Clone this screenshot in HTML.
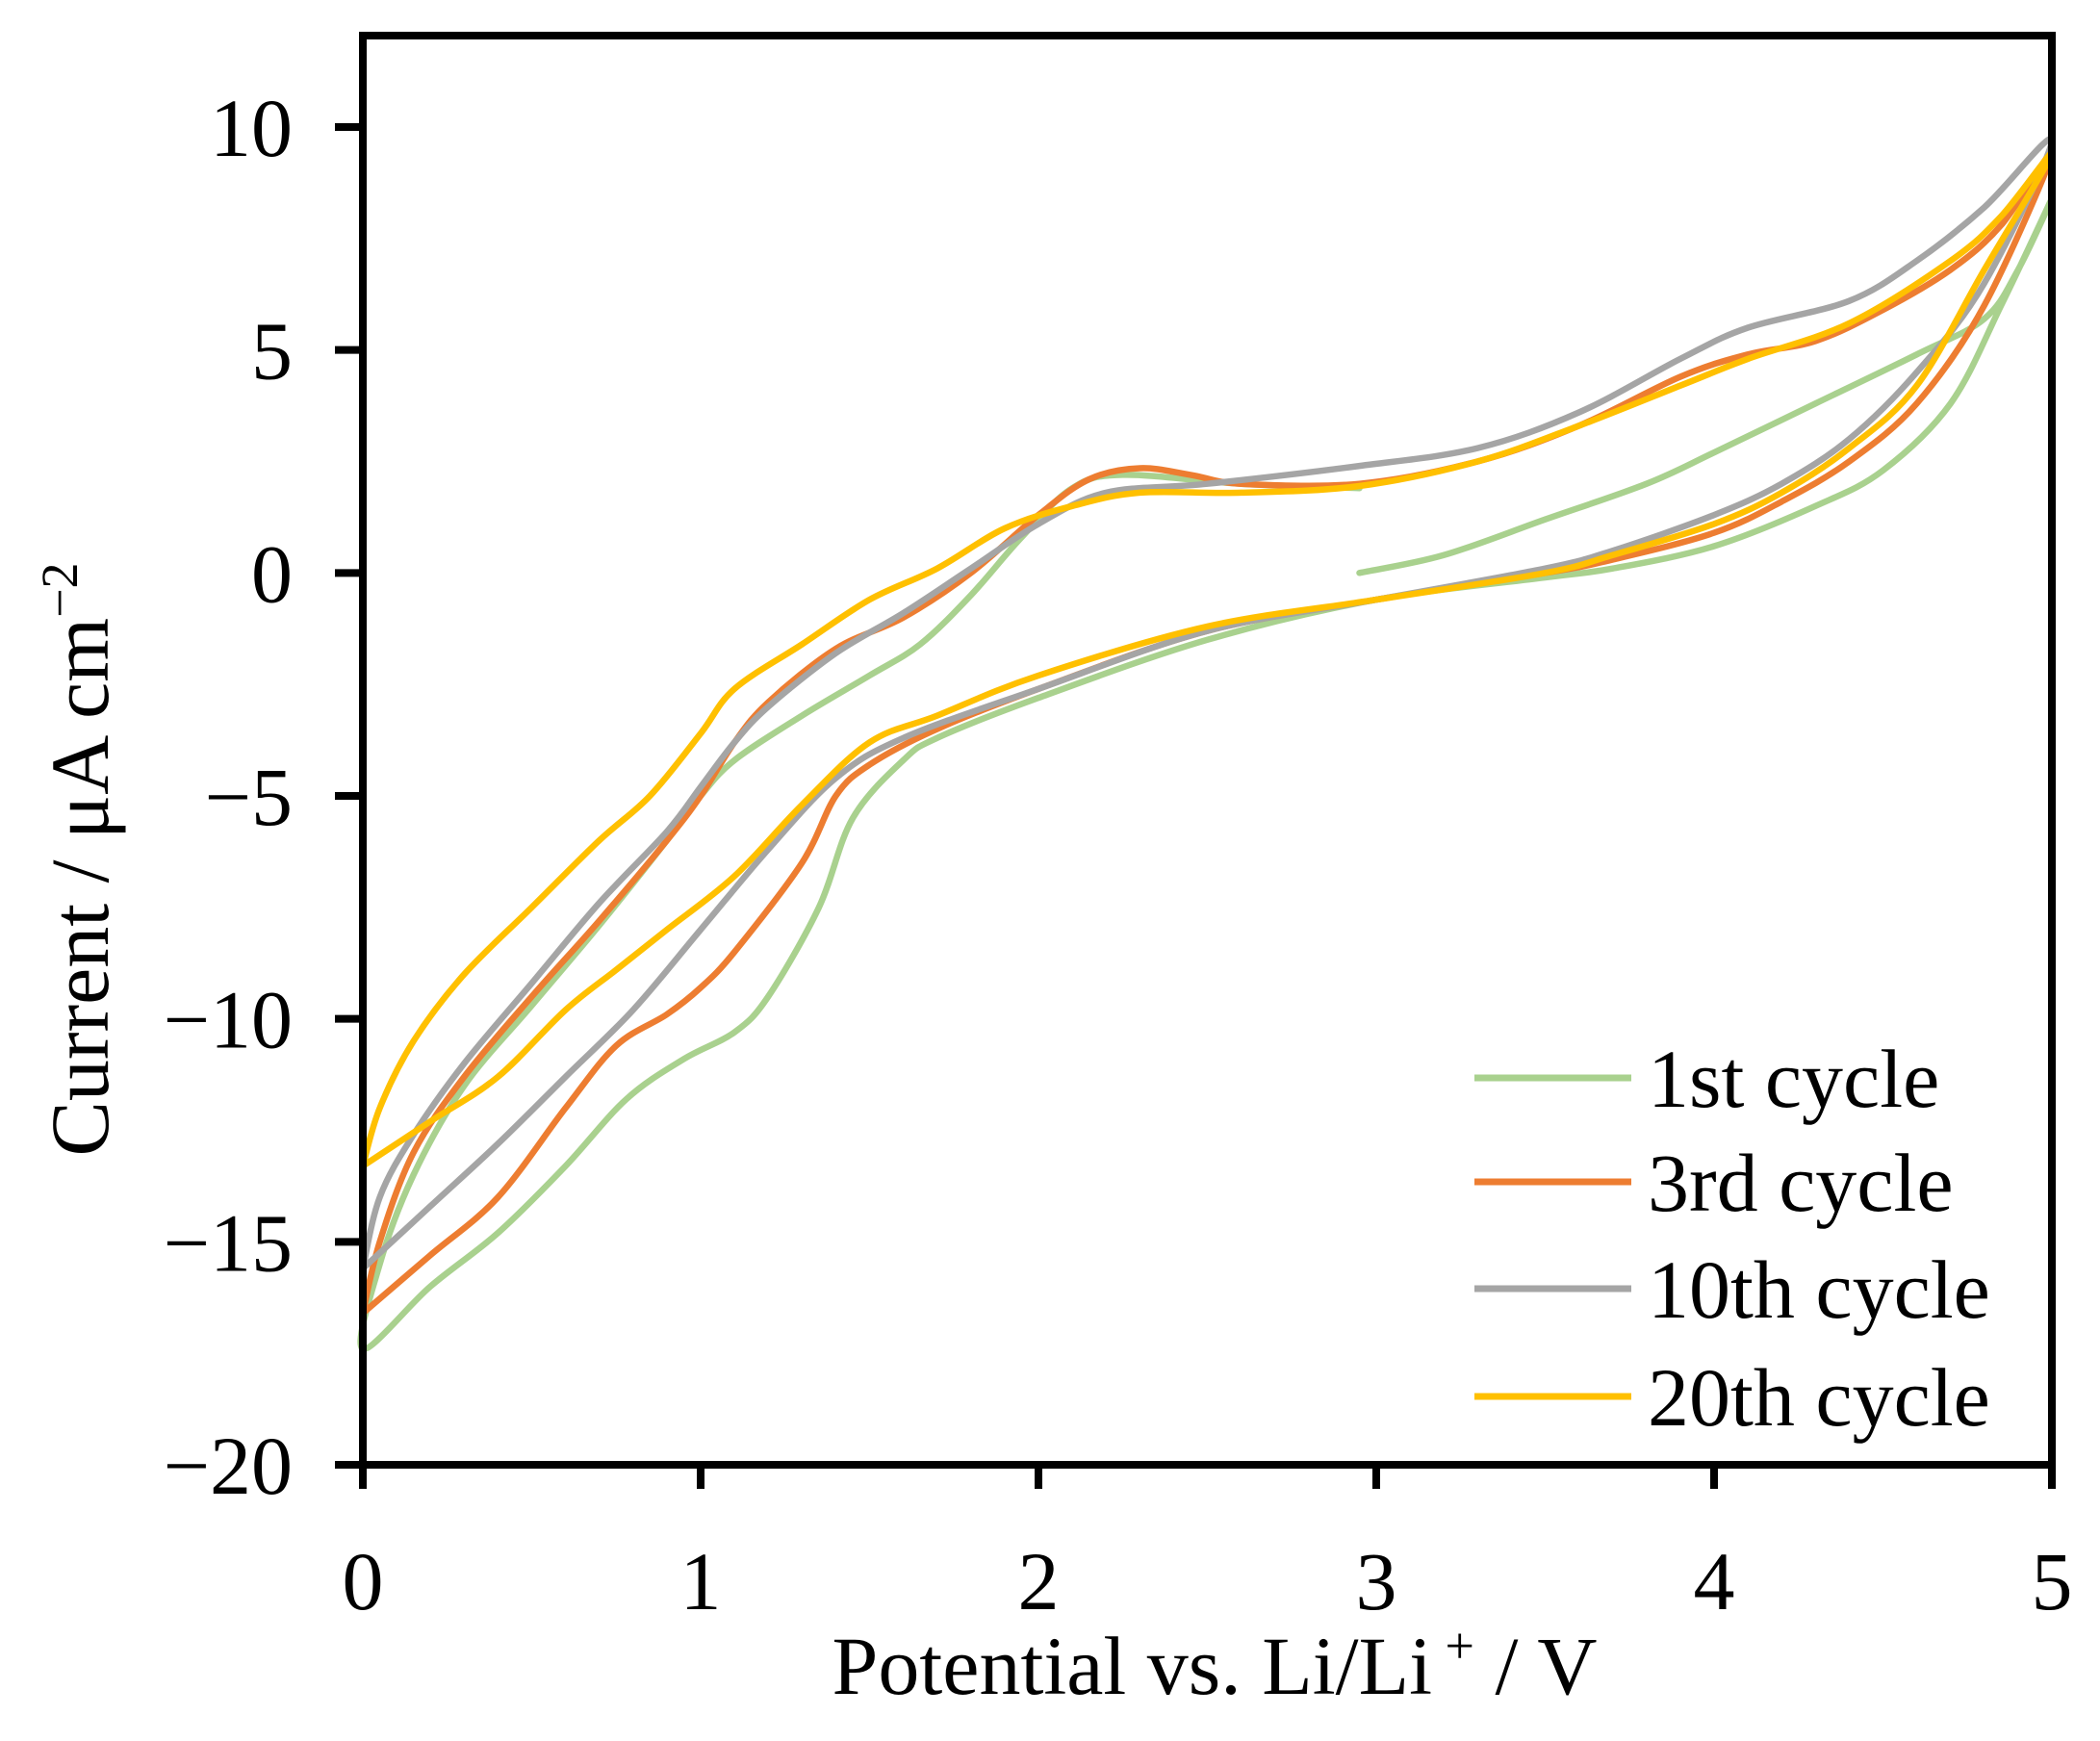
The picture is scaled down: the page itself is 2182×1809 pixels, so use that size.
<!DOCTYPE html>
<html><head><meta charset="utf-8">
<style>
html,body{margin:0;padding:0;background:#fff;}
svg{display:block;font-family:"Liberation Serif",serif;}
</style></head>
<body>
<svg id="chart" width="2182" height="1809" viewBox="0 0 2182 1809" xmlns="http://www.w3.org/2000/svg">
<g id="plot"></g>
<g id="axes"></g>
<g id="legend"></g>
<text x="1262" y="1760" font-size="86" text-anchor="middle" fill="#000">Potential vs. Li/Li<tspan font-size="54" dy="-32"> +</tspan><tspan dy="32"> / V</tspan></text>
<text transform="translate(112,893) rotate(-90)" font-size="86" text-anchor="middle" fill="#000">Current / μA cm<tspan font-size="54" dy="-32">−2</tspan></text>
</svg>
<script>
const xTicks=[0,1,2,3,4,5];
const yTicks=[10,5,0,-5,-10,-15,-20];
const seriesNames=["1st cycle","3rd cycle","10th cycle","20th cycle"];
const seriesColors=["#A9D18E","#ED7D31","#A5A5A5","#FFC000"];
// cycle 1 (green)
const c1V=[2.95,3.2,3.5,3.8,4.0,4.3,4.6,4.8,4.9,5, 4.85,4.7,4.5,4.3,4.0,3.7,3.5,3.0,2.5,2.0,1.7,1.6,1.45,1.35,1.2,1.1,0.95,0.78,0.6,0.4,0.2,0, 0.05,0.15,0.3,0.5,0.7,0.9,1.0,1.1,1.3,1.5,1.65,1.8,1.95,2.1,2.25,2.6,2.95];
const c1I=[0,0.4,1.2,2.0,2.7,3.8,4.9,5.7,6.8,8.4, 6,3.8,2.3,1.5,0.6,0.1,-0.1,-0.6,-1.5,-2.8,-3.7,-4.2,-5.5,-7.5,-9.5,-10.3,-10.9,-11.8,-13.3,-14.8,-16.0,-17.4, -15.5,-13.5,-11.5,-9.7,-7.9,-6,-5,-4.2,-3.2,-2.3,-1.6,-0.5,0.8,1.9,2.2,2.0,1.9];
// cycle 3 (orange)
const c3V=[0,0.05,0.15,0.3,0.5,0.7,0.9,1.0,1.1,1.2,1.4,1.6,1.8,2.0,2.15,2.3,2.45,2.6,2.95,3.3,3.6,3.9,4.1,4.3,4.5,4.7,4.85,5, 4.8,4.6,4.4,4.2,4.0,3.7,3.5,3.0,2.5,2.0,1.7,1.5,1.4,1.3,1.1,1.0,0.9,0.75,0.6,0.4,0.2,0];
const c3I=[-16.6,-15,-13,-11.3,-9.5,-7.8,-6,-5,-3.8,-2.9,-1.7,-1.0,0,1.3,2.1,2.35,2.2,2.0,2.0,2.5,3.3,4.4,4.9,5.2,5.9,6.8,7.8,9.4, 6,3.8,2.5,1.6,0.9,0.3,0.0,-0.6,-1.3,-2.6,-3.5,-4.3,-5,-6.5,-8.5,-9.3,-9.9,-10.6,-12,-14,-15.3,-16.6];
// cycle 10 (gray)
const c10V=[0,0.05,0.15,0.3,0.5,0.7,0.9,1.0,1.1,1.2,1.4,1.6,1.8,2.0,2.2,2.5,2.95,3.3,3.6,3.9,4.1,4.4,4.6,4.8,5, 4.8,4.6,4.4,4.2,4.0,3.7,3.5,3.0,2.5,2.0,1.6,1.4,1.2,1.0,0.8,0.6,0.4,0.2,0];
const c10I=[-15.6,-14,-12.6,-11,-9.2,-7.4,-5.8,-4.8,-3.8,-3.0,-1.8,-0.9,0.1,1.1,1.8,2.0,2.4,2.8,3.6,4.8,5.5,6.1,7.0,8.2,9.7, 6.5,4.5,3.0,2.0,1.3,0.5,0.1,-0.6,-1.3,-2.6,-3.7,-4.6,-6.2,-8.0,-9.8,-11.3,-12.8,-14.2,-15.6];
// cycle 20 (yellow)
const c20V=[0,0.05,0.15,0.3,0.5,0.7,0.85,1.0,1.1,1.3,1.5,1.7,1.9,2.1,2.3,2.6,2.95,3.3,3.6,3.9,4.1,4.4,4.7,4.85,5, 4.8,4.6,4.4,4.2,4.0,3.7,3.5,3.0,2.5,2.0,1.7,1.5,1.3,1.1,0.9,0.75,0.6,0.4,0.2,0];
const c20I=[-13.3,-12,-10.5,-9,-7.5,-6,-5,-3.6,-2.6,-1.6,-0.6,0.1,1.0,1.5,1.8,1.8,1.95,2.5,3.3,4.2,4.8,5.6,7.0,8.0,9.4, 6.8,4.2,2.8,1.8,1.1,0.4,0.0,-0.6,-1.2,-2.3,-3.2,-3.8,-5.2,-6.8,-8.0,-8.9,-9.8,-11.3,-12.3,-13.3];

const X0=377,X1=2132,Y0=1522,Y1=132;
function sx(v){return X0+(v-0)/(5-0)*(X1-X0);}
function sy(i){return Y0-(i-(-20))/(10-(-20))*(Y0-Y1);}
const NS="http://www.w3.org/2000/svg";
function mk(tag,attrs,parent){const e=document.createElementNS(NS,tag);for(const k in attrs)e.setAttribute(k,attrs[k]);parent.appendChild(e);return e;}
function smooth(pts){
  let d="M"+pts[0][0].toFixed(1)+","+pts[0][1].toFixed(1);
  for(let i=0;i<pts.length-1;i++){
    const p0=pts[Math.max(0,i-1)],p1=pts[i],p2=pts[i+1],p3=pts[Math.min(pts.length-1,i+2)];
    const c1x=p1[0]+(p2[0]-p0[0])/6,c1y=p1[1]+(p2[1]-p0[1])/6;
    const c2x=p2[0]-(p3[0]-p1[0])/6,c2y=p2[1]-(p3[1]-p1[1])/6;
    d+=" C"+c1x.toFixed(1)+","+c1y.toFixed(1)+" "+c2x.toFixed(1)+","+c2y.toFixed(1)+" "+p2[0].toFixed(1)+","+p2[1].toFixed(1);
  }
  return d;
}
const plot=document.getElementById('plot');
const allV=[c1V,c3V,c10V,c20V],allI=[c1I,c3I,c10I,c20I];
const slugs=["cycle-1","cycle-3","cycle-10","cycle-20"];
for(let s=0;s<4;s++){
  const V=allV[s],I=allI[s];
  const pts=V.map((v,k)=>[sx(v),sy(I[k])]);
  const p=mk('path',{d:smooth(pts),fill:"none",stroke:seriesColors[s],"stroke-width":6.5,"stroke-linejoin":"round","stroke-linecap":"round"},plot);
  
  
}
const axes=document.getElementById('axes');
const frame=mk('rect',{x:X0,y:37,width:X1-X0,height:Y0-37,fill:"none",stroke:"#000","stroke-width":8},axes);


yTicks.forEach(t=>{
  const y=sy(t);
  const l=mk('line',{x1:X0-29,x2:X0,y1:y,y2:y,stroke:"#000","stroke-width":8},axes);
  
  
  const tx=mk('text',{x:304,y:y+30,"font-size":86,"text-anchor":"end",fill:"#000"},axes);
  
  
  tx.textContent=t<0?"−"+Math.abs(t):String(t);
});
xTicks.forEach(t=>{
  const x=sx(t);
  const l=mk('line',{x1:x,x2:x,y1:Y0,y2:Y0+25,stroke:"#000","stroke-width":8},axes);
  
  
  const tx=mk('text',{x:x,y:1672,"font-size":86,"text-anchor":"middle",fill:"#000"},axes);
  
  
  tx.textContent=String(t);
});
const legend=document.getElementById('legend');
const legY=[1120,1228,1339,1451];
seriesNames.forEach((n,k)=>{
  const g=mk('g',{},legend);
  
  
  mk('line',{x1:1532,x2:1695,y1:legY[k],y2:legY[k],stroke:seriesColors[k],"stroke-width":7},g);
  const t=mk('text',{x:1712,y:legY[k]+30,"font-size":86,fill:"#000"},g);
  t.textContent=n;
});
</script>
</body></html>
